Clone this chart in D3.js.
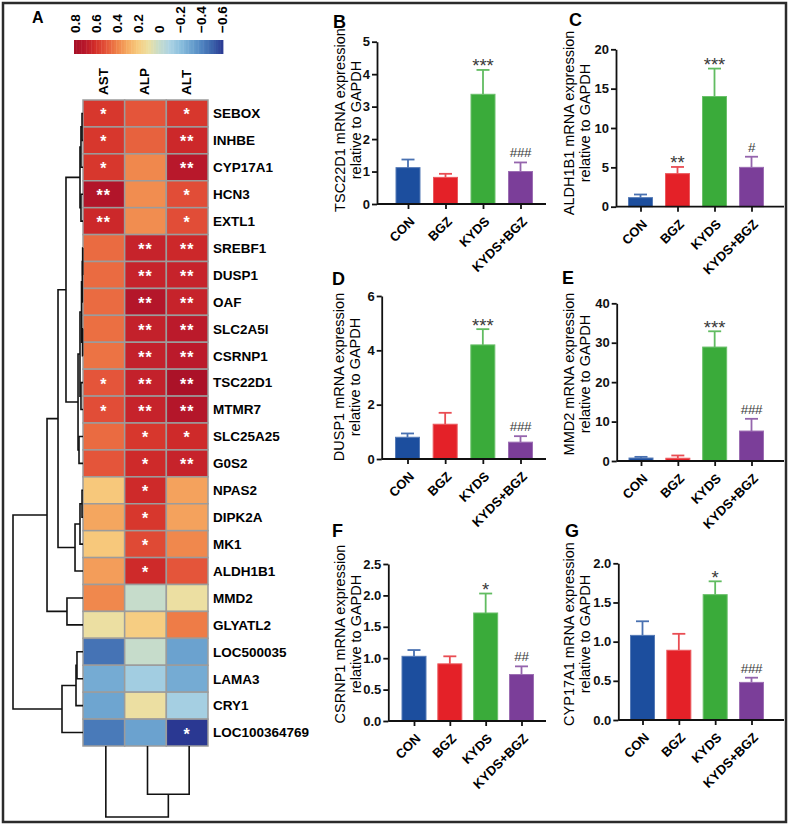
<!DOCTYPE html>
<html><head><meta charset="utf-8">
<script src="https://cdn.jsdelivr.net/npm/d3@7"></script>
<style>
body{margin:0;background:#fff}
svg text{font-family:"Liberation Sans",Arial,Helvetica,sans-serif}
</style>
</head><body>
<svg id="c" width="789" height="827"></svg>
<script>
// ---------------- DATA ----------------
const genes = ["SEBOX","INHBE","CYP17A1","HCN3","EXTL1","SREBF1","DUSP1","OAF","SLC2A5l","CSRNP1","TSC22D1","MTMR7","SLC25A25","G0S2","NPAS2","DIPK2A","MK1","ALDH1B1","MMD2","GLYATL2","LOC500035","LAMA3","CRY1","LOC100364769"];
const traits = ["AST","ALP","ALT"];
const corrAST = [0.58,0.58,0.58,0.73,0.63,0.45,0.45,0.45,0.44,0.43,0.50,0.52,0.45,0.50,0.21,0.31,0.21,0.33,0.38,0.10,-0.45,-0.27,-0.29,-0.43];
const corrALP = [0.50,0.47,0.38,0.37,0.37,0.65,0.65,0.72,0.66,0.66,0.66,0.65,0.58,0.62,0.62,0.58,0.53,0.62,0.00,0.19,0.00,-0.13,0.10,-0.30];
const corrALT = [0.58,0.63,0.70,0.52,0.52,0.63,0.65,0.65,0.69,0.69,0.77,0.72,0.62,0.65,0.32,0.32,0.38,0.50,0.10,0.41,-0.30,-0.27,-0.12,-0.60];
const sigAST = ["*","*","*","**","**","","","","","","*","*","","","","","","","","","","","",""];
const sigALP = ["","","","","","**","**","**","**","**","**","**","*","*","*","*","*","*","","","","","",""];
const sigALT = ["*","**","**","*","*","**","**","**","**","**","**","**","*","**","","","","","","","","","","*"];
const colorbarTicks = [0.8,0.6,0.4,0.2,0,-0.2,-0.4,-0.6];
const colorStopValues = [0.8,0.7,0.6,0.5,0.4,0.3,0.2,0.1,0,-0.1,-0.2,-0.3,-0.4,-0.5,-0.6];
const colorStopHex = ["#a50f26","#b8182b","#d42f2a","#e4553a","#ef8048","#f5aa62","#f7cb7e","#ecdfa2","#c6dccb","#acd3e3","#8bbfdd","#6ba2cf","#4f84c0","#3a62aa","#2a3892"];
// row dendrogram: [height, left, right]
const rowTree = [1.0,
  [0.514,
    [0.357,
      [0.243,
        [0.043,[0.029,[0.014,"SEBOX","INHBE"],"CYP17A1"],[0.029,"HCN3","EXTL1"]],
        [0.071,
          [0.043,
            [0.021,[0.010,[0.005,"SREBF1","DUSP1"],"OAF"],[0.007,"SLC2A5l","CSRNP1"]],
            [0.029,"TSC22D1","MTMR7"]],
          [0.057,"SLC25A25","G0S2"]]],
      [0.114,[0.043,[0.014,"NPAS2","DIPK2A"],"MK1"],"ALDH1B1"]],
    [0.229,"MMD2","GLYATL2"]],
  [0.30,[0.10,[0.086,"LOC500035","LAMA3"],"CRY1"],"LOC100364769"]];
const colTree = [1.0,"AST",[0.68,"ALP","ALT"]];

const groups = ["CON","BGZ","KYDS","KYDS+BGZ"];
const groupColors = ["#1c4e9e","#e42128","#3aab3a","#7b3e99"];
const tscMean = [1.12,0.82,3.38,1.00], tscErr = [0.25,0.11,0.75,0.28], tscSig = ["","","***","###"], tscTicks = [0,1,2,3,4,5];
const aldhMean = [1.15,4.20,14.0,5.00], aldhErr = [0.40,0.85,3.55,1.35], aldhSig = ["","**","***","#"], aldhTicks = [0,5,10,15,20];
const duspMean = [0.80,1.28,4.20,0.62], duspErr = [0.14,0.42,0.58,0.22], duspSig = ["","","***","###"], duspTicks = [0,2,4,6];
const mmdMean = [0.75,0.70,28.9,7.6], mmdErr = [0.30,0.70,4.0,3.1], mmdSig = ["","","***","###"], mmdTicks = [0,10,20,30,40];
const csrMean = [1.03,0.91,1.72,0.74], csrErr = [0.10,0.12,0.31,0.13], csrSig = ["","","*","##"], csrTicks = [0,0.5,1.0,1.5,2.0,2.5];
const cypMean = [1.08,0.89,1.60,0.48], cypErr = [0.18,0.21,0.17,0.06], cypSig = ["","","*","###"], cypTicks = [0,0.5,1.0,1.5,2.0];

// ---------------- DRAW ----------------
const svg = d3.select("#c");
svg.append("rect").attr("x",3).attr("y",3).attr("width",783).attr("height",819)
  .attr("fill","none").attr("stroke","#2b2b2b").attr("stroke-width",2.5);

// Panel A
svg.append("text").attr("x",32).attr("y",23).attr("font-size",16).attr("font-weight","bold").text("A");
const color = d3.scaleLinear().domain(colorStopValues).range(colorStopHex).clamp(true);
const hx = d3.scaleBand().domain(traits).range([83,208]);
const hy = d3.scaleBand().domain(genes).range([100,746]);
const corr = {AST:corrAST, ALP:corrALP, ALT:corrALT};
const sig = {AST:sigAST, ALP:sigALP, ALT:sigALT};
const cells = [];
genes.forEach((g,i)=>traits.forEach(t=>cells.push({g,t,v:corr[t][i],s:sig[t][i]})));
const gH = svg.append("g");
gH.selectAll("rect").data(cells).join("rect")
  .attr("x",d=>hx(d.t)).attr("y",d=>hy(d.g))
  .attr("width",hx.bandwidth()).attr("height",hy.bandwidth())
  .attr("fill",d=>color(d.v)).attr("stroke","#9c9c9c").attr("stroke-width",1.5);
gH.selectAll("text").data(cells.filter(d=>d.s)).join("text")
  .attr("x",d=>hx(d.t)+hx.bandwidth()/2).attr("y",d=>hy(d.g)+hy.bandwidth()/2+7)
  .attr("text-anchor","middle").attr("fill","#fff").attr("font-size",16).attr("font-weight","bold")
  .attr("letter-spacing",1).text(d=>d.s);
svg.append("g").selectAll("text").data(genes).join("text")
  .attr("x",213).attr("y",d=>hy(d)+hy.bandwidth()/2).attr("dy","0.36em")
  .attr("font-size",13.5).attr("font-weight","bold").text(d=>d);
svg.append("g").selectAll("text").data(traits).join("text")
  .attr("transform",d=>`translate(${hx(d)+hx.bandwidth()/2-1},95) rotate(-90)`)
  .attr("dy","0.36em").attr("font-size",13.5).attr("font-weight","bold").text(d=>d);
const cb = d3.scaleLinear().domain([0.8,-0.6]).range([75,222]);
const cbSteps = d3.range(0,60).map(i=>0.8-1.4*(i+0.5)/60);
const stepW = (223-74)/60;
svg.append("g").selectAll("rect").data(cbSteps).join("rect")
  .attr("x",(d,i)=>74+i*stepW).attr("y",40).attr("width",stepW+0.4).attr("height",14)
  .attr("fill",d=>color(d));
svg.append("g").selectAll("text").data(colorbarTicks).join("text")
  .attr("transform",d=>`translate(${cb(d)},33) rotate(-90)`).attr("dy","0.36em")
  .attr("font-size",13.5).attr("font-weight","bold")
  .text(d=>d===0?"0":(d<0?"\u2212"+Math.abs(d).toFixed(1):d.toFixed(1)));
const rdx = d3.scaleLinear().domain([0,1]).range([83,13]);
const gD = svg.append("g").attr("fill","none").attr("stroke","#111").attr("stroke-width",1.6);
function drawRow(node){
  if(typeof node==="string") return {y:hy(node)+hy.bandwidth()/2,h:0};
  const [h,a,b]=node; const A=drawRow(a), B=drawRow(b);
  const p=d3.path(); p.moveTo(rdx(A.h),A.y); p.lineTo(rdx(h),A.y); p.lineTo(rdx(h),B.y); p.lineTo(rdx(B.h),B.y);
  gD.append("path").attr("d",p.toString());
  return {y:(A.y+B.y)/2,h};
}
drawRow(rowTree);
const cdy = d3.scaleLinear().domain([0,1]).range([746,817]);
function drawCol(node){
  if(typeof node==="string") return {x:hx(node)+hx.bandwidth()/2+2,h:0};
  const [h,a,b]=node; const A=drawCol(a), B=drawCol(b);
  const p=d3.path(); p.moveTo(A.x,cdy(A.h)); p.lineTo(A.x,cdy(h)); p.lineTo(B.x,cdy(h)); p.lineTo(B.x,cdy(B.h));
  gD.append("path").attr("d",p.toString());
  return {x:(A.x+B.x)/2,h};
}
drawCol(colTree);

const panels = [
  {letter:"B",gene:"TSC22D1",mean:tscMean,err:tscErr,sig:tscSig,ticks:tscTicks,dec:0,
   x0:377,x1:546,y0:204,yTop:41.7,c0:408,c1:520.5,labX:340,labY:120,lx:333,ly:28},
  {letter:"C",gene:"ALDH1B1",mean:aldhMean,err:aldhErr,sig:aldhSig,ticks:aldhTicks,dec:0,
   x0:616,x1:784,y0:206.7,yTop:49.3,c0:640.5,c1:751.5,labX:569,labY:123,lx:569,ly:26},
  {letter:"D",gene:"DUSP1",mean:duspMean,err:duspErr,sig:duspSig,ticks:duspTicks,dec:0,
   x0:381.7,x1:546,y0:459,yTop:296,c0:407.5,c1:520.5,labX:339,labY:377,lx:332,ly:285},
  {letter:"E",gene:"MMD2",mean:mmdMean,err:mmdErr,sig:mmdSig,ticks:mmdTicks,dec:0,
   x0:616.7,x1:784,y0:461,yTop:303.3,c0:641,c1:751.5,labX:569,labY:374,lx:562,ly:284},
  {letter:"F",gene:"CSRNP1",mean:csrMean,err:csrErr,sig:csrSig,ticks:csrTicks,dec:1,
   x0:388.3,x1:546,y0:721,yTop:564,c0:414,c1:521.5,labX:340,labY:634,lx:332,ly:537},
  {letter:"G",gene:"CYP17A1",mean:cypMean,err:cypErr,sig:cypSig,ticks:cypTicks,dec:1,
   x0:618.3,x1:784,y0:720,yTop:563.3,c0:642.5,c1:751.5,labX:569,labY:634,lx:565,ly:537}
];
panels.forEach(P=>{
  const g = svg.append("g");
  const yMax = P.ticks[P.ticks.length-1];
  const y = d3.scaleLinear().domain([0,yMax]).range([P.y0,P.yTop]);
  const x = d3.scalePoint().domain(groups).range([P.c0,P.c1]);
  const bw = 24;
  g.append("text").attr("x",P.lx).attr("y",P.ly).attr("font-size",18).attr("font-weight","bold").text(P.letter);
  const lab = g.append("text").attr("transform",`translate(${P.labX},${P.labY}) rotate(-90)`)
    .attr("text-anchor","middle").attr("font-size",14.5);
  lab.append("tspan").attr("x",0).attr("dy","0.36em").text(P.gene+" mRNA expression");
  lab.append("tspan").attr("x",0).attr("dy",15.5).text("relative to GAPDH");
  const data = groups.map((k,i)=>({k,m:P.mean[i],e:P.err[i],s:P.sig[i],c:groupColors[i]}));
  g.selectAll("rect.bar").data(data).join("rect").attr("class","bar")
    .attr("x",d=>x(d.k)-bw/2).attr("y",d=>y(d.m)).attr("width",bw).attr("height",d=>y(0)-y(d.m))
    .attr("fill",d=>d.c).attr("stroke",d=>d3.interpolateRgb(d.c,"#fff")(0.25)).attr("stroke-width",1);
  const eb = g.selectAll("g.err").data(data).join("g").attr("class","err")
    .attr("stroke",d=>d3.interpolateRgb(d.c,"#fff")(0.2)).attr("stroke-width",1.8);
  eb.append("line").attr("x1",d=>x(d.k)).attr("x2",d=>x(d.k)).attr("y1",d=>y(d.m)).attr("y2",d=>y(d.m+d.e));
  eb.append("line").attr("x1",d=>x(d.k)-6.5).attr("x2",d=>x(d.k)+6.5).attr("y1",d=>y(d.m+d.e)).attr("y2",d=>y(d.m+d.e));
  g.selectAll("text.sig").data(data.filter(d=>d.s)).join("text").attr("class","sig")
    .attr("x",d=>x(d.k)).attr("y",d=>y(d.m+d.e)+(d.s[0]==="#"?-5:2.5))
    .attr("text-anchor","middle").attr("fill","#3a3a3a")
    .attr("font-size",d=>d.s[0]==="#"?13.5:18.5).attr("letter-spacing",d=>d.s[0]==="#"?-0.3:0)
    .text(d=>d.s);
  const ya = g.append("g").attr("transform",`translate(${P.x0},0)`)
    .call(d3.axisLeft(y).tickValues(P.ticks).tickSize(5).tickSizeOuter(0).tickPadding(2)
      .tickFormat(d=>d.toFixed(P.dec)));
  ya.select(".domain").attr("stroke","#111").attr("stroke-width",1.8);
  ya.selectAll(".tick line").attr("stroke","#111").attr("stroke-width",1.8);
  ya.selectAll(".tick text").attr("font-size",13).attr("font-weight","bold").attr("fill","#111")
    .attr("font-family",'"Liberation Sans",Arial,sans-serif');
  g.append("line").attr("x1",P.x0).attr("x2",P.x1).attr("y1",P.y0).attr("y2",P.y0)
    .attr("stroke","#111").attr("stroke-width",1.8);
  const xa = g.append("g").attr("transform",`translate(0,${P.y0})`)
    .call(d3.axisBottom(x).tickSize(5).tickSizeOuter(0).tickFormat(""));
  xa.select(".domain").remove();
  xa.selectAll(".tick line").attr("stroke","#111").attr("stroke-width",1.8);
  g.selectAll("text.xl").data(groups).join("text").attr("class","xl")
    .attr("transform",d=>`translate(${x(d)+4},${P.y0+15}) rotate(-45)`)
    .attr("text-anchor","end").attr("dy","0.36em").attr("font-size",13).attr("font-weight","bold")
    .text(d=>d);
});
</script>
</body></html>
